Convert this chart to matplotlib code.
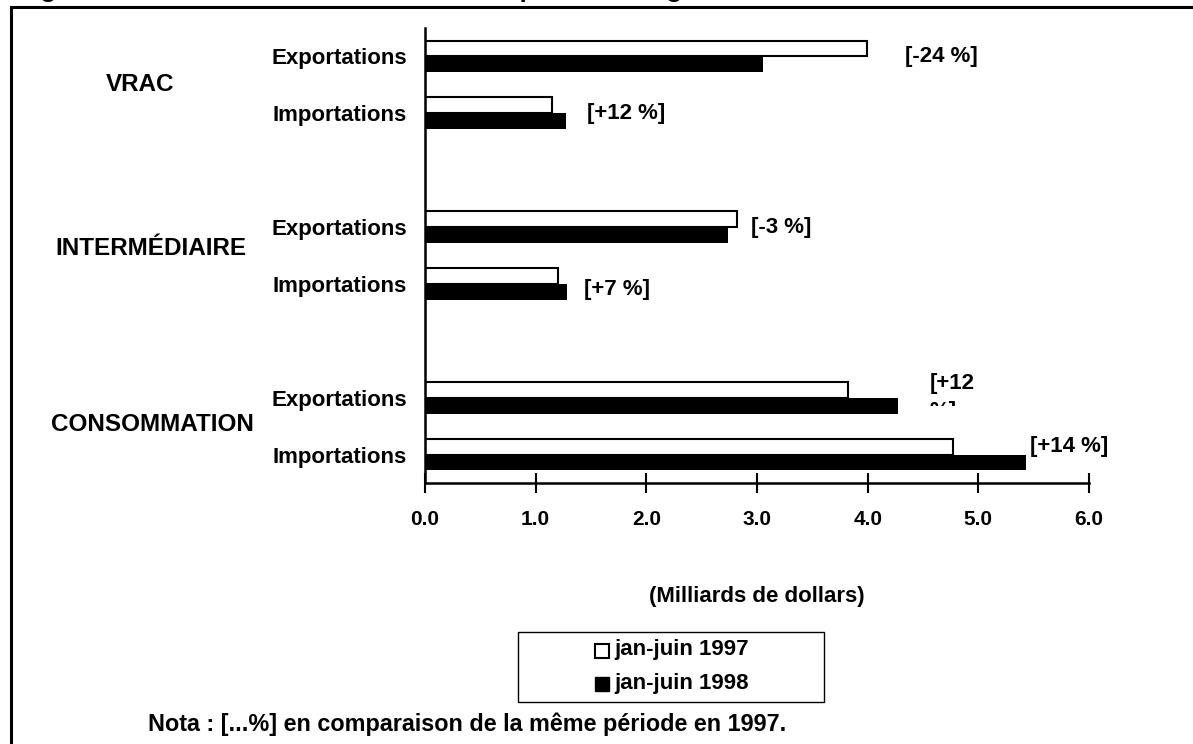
import numpy as np
import matplotlib
matplotlib.use("Agg")
import matplotlib.pyplot as plt
from matplotlib.patches import Rectangle

plt.rcParams['font.family'] = ['Liberation Sans', 'DejaVu Sans']
plt.rcParams['font.weight'] = 'bold'
plt.rcParams['axes.labelweight'] = 'bold'

# DONNEES (milliards de dollars)
sous_cat = ["Exportations", "Importations", "Exportations", "Importations",
            "Exportations", "Importations"]
categories = ["VRAC", "INTERMÉDIAIRE", "CONSOMMATION"]
v1997 = [3.99, 1.15, 2.82, 1.20, 3.82, 4.77]
v1998 = [3.05, 1.27, 2.74, 1.28, 4.27, 5.43]
variations = ["[-24 %]", "[+12 %]", "[-3 %]", "[+7 %]", "[+12", "[+14 %]"]
xticks = [0.0, 1.0, 2.0, 3.0, 4.0, 5.0, 6.0]
series = ["jan-juin 1997", "jan-juin 1998"]

# positions (lignes vides entre les groupes)
pos = np.array([0, 1, 3, 4, 6, 7])
h = 0.28

W, H = 1193, 744
fig = plt.figure(figsize=(W / 100, H / 100), dpi=100)
ax = fig.add_axes([425 / W, 1 - 483 / H, 664 / W, 455 / H])

ax.barh(pos - h / 2, v1997, height=h, color="white", edgecolor="black", linewidth=1.5)
ax.barh(pos + h / 2, v1998, height=h, color="black", edgecolor="black", linewidth=0)

ax.set_xlim(0, 6)
ax.set_ylim(7.5, -0.5)
ax.set_xticks(xticks)
ax.set_xticklabels(["%.1f" % t for t in xticks], fontsize=15)
ax.set_yticks(pos)
ax.set_yticklabels(sous_cat, fontsize=16)
ax.tick_params(axis="y", length=0, pad=13)
ax.tick_params(axis="x", direction="inout", length=15, width=1.5, pad=12)
for s in ["top", "right"]:
    ax.spines[s].set_visible(False)
for s in ["left", "bottom"]:
    ax.spines[s].set_linewidth(1.8)

ax.set_xlabel("(Milliards de dollars)", fontsize=16, labelpad=41)

# etiquettes de variation
lab_x = [4.34, 1.46, 2.95, 1.44, 4.56, 5.47]
lab_y = [0, 1, 3, 4.1, 5.75, 6.86]
for t, x, y in zip(variations, lab_x, lab_y):
    ax.text(x, y, t, fontsize=16, va="center", ha="left")
# suite du texte coupee (deuxieme ligne masquee)
clip = Rectangle((900 / W, 1 - 406 / H), 100 / W, 40 / H, transform=fig.transFigure,
                 visible=False)
fig.add_artist(clip)
t2 = ax.text(4.56, 6.24, "%]", fontsize=16, va="center", ha="left")
t2.set_clip_on(True)
t2.set_clip_path(clip)

# categories
cat_y = [0.5, 3.37, 6.48]
cat_x = [140, 151, 152]
for c, x, y in zip(categories, cat_x, cat_y):
    ax.text((x - 425) / 664, y, c, fontsize=17.5, ha="center", va="center",
            transform=ax.get_yaxis_transform())

# cadre
fig.add_artist(Rectangle((11 / W, -0.1), 1.2, 1 - 6.5 / H + 0.1, transform=fig.transFigure,
                         fill=False, lw=2.2, edgecolor="black"))

# titre (coupe en haut, seules les jambages restent visibles)
fig.text(17 / W, 1 + 3 / H, "Figure 5 : Commerce des marchandises pour la catégorie",
         fontsize=18.8, ha="left", va="baseline")

# legende
fig.add_artist(Rectangle((518 / W, 1 - 702 / H), 306 / W, 70 / H, transform=fig.transFigure,
                         fill=False, lw=1.0, edgecolor="black"))
fig.add_artist(Rectangle((595 / W, 1 - 658 / H), 14 / W, 14 / H, transform=fig.transFigure,
                         facecolor="white", lw=1.5, edgecolor="black"))
fig.add_artist(Rectangle((595 / W, 1 - 691 / H), 14 / W, 14 / H, transform=fig.transFigure,
                         facecolor="black", lw=1.0, edgecolor="black"))
fig.text(614 / W, 1 - 650 / H, series[0], fontsize=16, va="center", ha="left")
fig.text(614 / W, 1 - 683 / H, series[1], fontsize=16, va="center", ha="left")

fig.text(148 / W, 1 - 724 / H, "Nota : [...%] en comparaison de la même période en 1997.",
         fontsize=16.8, va="center", ha="left")

fig.savefig("out.png", dpi=100)
